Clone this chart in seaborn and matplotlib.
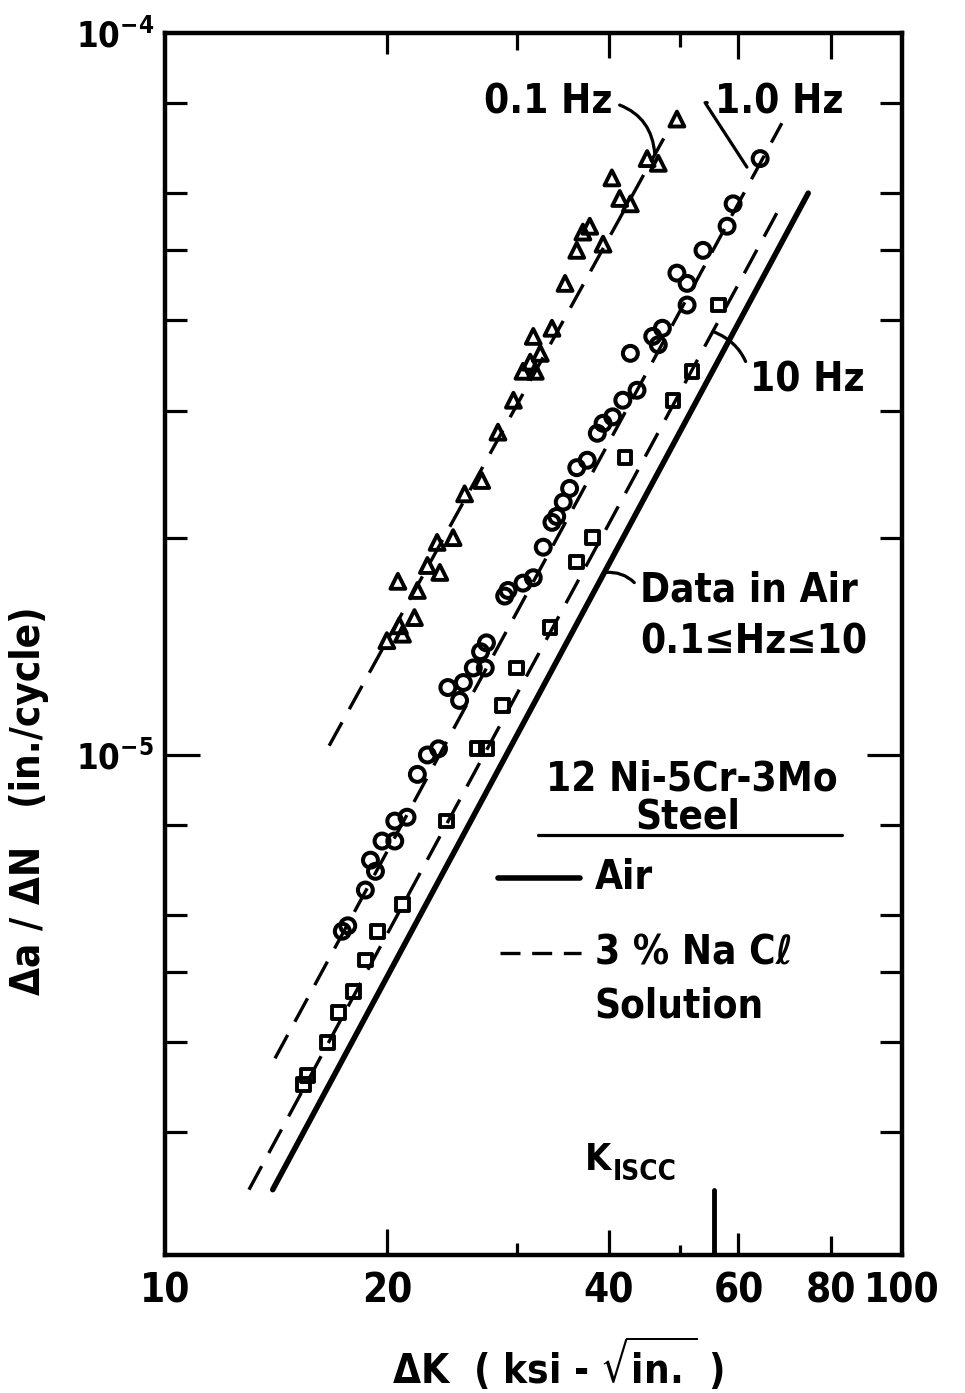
import numpy as np
import pandas as pd
import matplotlib
matplotlib.use("Agg")
import matplotlib.pyplot as plt
import seaborn as sns
from matplotlib.ticker import FixedLocator, NullFormatter, FixedFormatter

# ---------------- data ----------------
# 3% NaCl solution, 0.1 Hz (triangles)
K_01Hz = [49.5, 46.7, 45.1, 40.4, 41.4, 42.8, 37.7, 36.9, 39.3, 36.2, 34.9, 33.5, 31.6,
          32.3, 31.3, 30.6, 31.8, 29.7, 28.3, 26.9, 25.5, 24.6, 23.4, 23.6, 22.7, 22.0,
          20.7, 21.8, 20.8, 21.0, 20.0]
dadN_01Hz = [7.6e-5, 6.6e-5, 6.7e-5, 6.3e-5, 5.9e-5, 5.8e-5, 5.4e-5, 5.3e-5, 5.1e-5,
             5.0e-5, 4.5e-5, 3.9e-5, 3.8e-5, 3.6e-5, 3.5e-5, 3.4e-5, 3.4e-5, 3.1e-5,
             2.8e-5, 2.4e-5, 2.3e-5, 2.0e-5, 1.97e-5, 1.79e-5, 1.83e-5, 1.69e-5,
             1.74e-5, 1.55e-5, 1.51e-5, 1.47e-5, 1.44e-5]

# 3% NaCl solution, 1.0 Hz (circles)
K_1Hz = [64.2, 59.0, 57.9, 53.7, 49.5, 51.1, 51.1, 47.3, 45.9, 46.7, 42.8, 43.7, 41.8,
         40.5, 39.3, 38.6, 37.4, 36.2, 35.4, 34.7, 34.0, 33.5, 32.6, 31.6, 30.6, 29.2,
         28.9, 27.3, 26.8, 27.2, 26.2, 25.4, 24.2, 25.1, 23.5, 22.7, 22.0, 21.3, 20.5,
         20.5, 19.7, 19.0, 19.3, 18.7, 17.7, 17.4]
dadN_1Hz = [6.7e-5, 5.8e-5, 5.4e-5, 5.0e-5, 4.65e-5, 4.5e-5, 4.2e-5, 3.9e-5, 3.8e-5,
            3.7e-5, 3.6e-5, 3.2e-5, 3.1e-5, 2.94e-5, 2.88e-5, 2.79e-5, 2.56e-5, 2.5e-5,
            2.34e-5, 2.24e-5, 2.14e-5, 2.10e-5, 1.94e-5, 1.76e-5, 1.73e-5, 1.69e-5,
            1.66e-5, 1.43e-5, 1.39e-5, 1.32e-5, 1.32e-5, 1.26e-5, 1.24e-5, 1.19e-5,
            1.02e-5, 1.0e-5, 9.4e-6, 8.2e-6, 8.1e-6, 7.6e-6, 7.6e-6, 7.15e-6, 6.9e-6,
            6.5e-6, 5.8e-6, 5.7e-6]

# 3% NaCl solution, 10 Hz (squares)
K_10Hz = [56.3, 51.9, 48.9, 42.1, 38.0, 36.2, 33.3, 30.0, 28.7, 27.3, 26.5, 24.1, 21.0,
          19.4, 18.7, 18.0, 17.2, 16.6, 15.6, 15.4]
dadN_10Hz = [4.2e-5, 3.4e-5, 3.1e-5, 2.58e-5, 2.0e-5, 1.85e-5, 1.5e-5, 1.32e-5, 1.17e-5,
             1.02e-5, 1.02e-5, 8.1e-6, 6.2e-6, 5.7e-6, 5.2e-6, 4.7e-6, 4.4e-6, 4.0e-6,
             3.6e-6, 3.5e-6]

# fitted trend lines (end points)
air_K = [14.0, 74.6]
air_dadN = [2.5e-6, 6.0e-5]
nacl10_K = [13.0, 68.7]
nacl10_dadN = [2.5e-6, 5.8e-5]
nacl1_K = [14.1, 68.7]
nacl1_dadN = [3.8e-6, 7.5e-5]
nacl01_K = [16.7, 47.7]
nacl01_dadN = [1.03e-5, 7.2e-5]

K_ISCC = 55.5

x_ticks = [10, 20, 30, 40, 50, 60, 80, 100]
x_ticklabels = ["10", "20", "", "40", "", "60", "80", "100"]
y_major = [1e-5, 1e-4]
y_ticklabels = [r"$\mathbf{10^{-5}}$", r"$\mathbf{10^{-4}}$"]
y_minor = [2e-6, 3e-6, 4e-6, 5e-6, 6e-6, 8e-6, 2e-5, 3e-5, 4e-5, 5e-5, 6e-5, 8e-5]

# ---------------- style ----------------
sns.set_theme(style="ticks")
plt.rcParams["font.family"] = ["DejaVu Sans"]
plt.rcParams["font.weight"] = "bold"
plt.rcParams["font.stretch"] = "condensed"
plt.rcParams["mathtext.default"] = "bf"
plt.rcParams["mathtext.fontset"] = "dejavusans"
for key in ["text.color", "axes.labelcolor", "xtick.color", "ytick.color", "axes.edgecolor"]:
    plt.rcParams[key] = "black"

fig = plt.figure(figsize=(9.65, 13.93), dpi=100)
ax = fig.add_axes([0.171, 0.0991, 0.7637, 0.8772])
ax.set_xscale("log")
ax.set_yscale("log")

# ---------------- lines ----------------
sns.lineplot(x=air_K, y=air_dadN, color="black", linewidth=4.0, ax=ax)
for kk, dd in [(nacl10_K, nacl10_dadN), (nacl1_K, nacl1_dadN), (nacl01_K, nacl01_dadN)]:
    sns.lineplot(x=kk, y=dd, color="black", linewidth=2.4, ax=ax)
    ax.lines[-1].set_dashes([8, 4.5])

# ---------------- points ----------------
sns.scatterplot(x=K_01Hz, y=dadN_01Hz, marker="^", s=115, facecolor="none",
                edgecolor="black", linewidth=2.8, ax=ax, zorder=4)
sns.scatterplot(x=K_1Hz, y=dadN_1Hz, marker="o", s=115, facecolor="none",
                edgecolor="black", linewidth=2.9, ax=ax, zorder=4)
sns.scatterplot(x=K_10Hz, y=dadN_10Hz, marker="s", s=85, facecolor="none",
                edgecolor="black", linewidth=2.8, ax=ax, zorder=4)

ax.set_xlim(10, 100)
ax.set_ylim(2.03e-6, 1e-4)

# ---------------- axes styling ----------------
for sp in ax.spines.values():
    sp.set_linewidth(3.2)
    sp.set_color("black")

ax.xaxis.set_major_locator(FixedLocator(x_ticks))
ax.xaxis.set_major_formatter(FixedFormatter(x_ticklabels))
ax.xaxis.set_minor_locator(FixedLocator([]))
ax.yaxis.set_major_locator(FixedLocator(y_major))
ax.yaxis.set_major_formatter(FixedFormatter(y_ticklabels))
ax.yaxis.set_minor_locator(FixedLocator(y_minor))
ax.yaxis.set_minor_formatter(NullFormatter())

ax.tick_params(axis="both", which="both", direction="in", top=True, right=True,
               width=2.3, color="black", labelcolor="black")
ax.tick_params(axis="x", which="major", labelsize=29, pad=12)
ax.tick_params(axis="y", which="major", length=25, labelsize=25, pad=8)
ax.tick_params(axis="y", which="minor", length=16)

bottom_len = [0, 19, 9, 18, 7, 16, 14, 0]
top_len = [0, 15, 12, 18, 10, 19, 19, 0]
for t, lb, lt in zip(ax.xaxis.get_major_ticks(), bottom_len, top_len):
    t.tick1line.set_markersize(lb)
    t.tick2line.set_markersize(lt)
ymaj = ax.yaxis.get_major_ticks()
ymaj[1].tick1line.set_markersize(0)
ymaj[1].tick2line.set_markersize(0)

for lab in ax.get_xticklabels() + ax.get_yticklabels():
    lab.set_fontweight("bold")

ax.set_xlabel(r"ΔK  ( ksi - $\sqrt{\mathbf{in.}}$ )", fontsize=29, fontweight="bold")
ax.set_ylabel("Δa / ΔN   (in./cycle)", fontsize=29, fontweight="bold")
ax.xaxis.set_label_coords(0.533, -0.066)
ax.yaxis.set_label_coords(-0.158, 0.372)

# K_ISCC marker
ax.axvline(K_ISCC, ymin=0, ymax=0.053, color="black", lw=3.5)
ax.text(0.57, 0.078, "K", transform=ax.transAxes, fontsize=27, ha="left", va="center")
ax.text(0.608, 0.068, "ISCC", transform=ax.transAxes, fontsize=20, ha="left", va="center")

# ---------------- annotations ----------------
fs = 29
lp = dict(arrowstyle="-", lw=2.3, color="black", shrinkA=3, shrinkB=0)
ax.annotate("0.1 Hz", xy=(46.2, 6.79e-5), xytext=(0.52, 0.943), textcoords="axes fraction",
            ha="center", va="center", fontsize=fs,
            arrowprops=dict(lp, relpos=(1, 0.5), connectionstyle="arc3,rad=-0.35"))
ax.annotate("1.0 Hz", xy=(61.6, 6.52e-5), xytext=(0.833, 0.943), textcoords="axes fraction",
            ha="center", va="center", fontsize=fs,
            arrowprops=dict(lp, relpos=(0, 0.5), connectionstyle="angle,angleA=180,angleB=123,rad=0"))
ax.annotate("10 Hz", xy=(55.4, 3.86e-5), xytext=(0.872, 0.716), textcoords="axes fraction",
            ha="center", va="center", fontsize=fs,
            arrowprops=dict(lp, relpos=(0, 0.5), connectionstyle="arc3,rad=0.3"))
ax.annotate("Data in Air", xy=(39.5, 1.79e-5), xytext=(0.645, 0.544), textcoords="axes fraction",
            ha="left", va="center", fontsize=fs,
            arrowprops=dict(lp, relpos=(0, 0.5), connectionstyle="arc3,rad=0.3"))
ax.text(0.645, 0.501, "0.1≤Hz≤10", transform=ax.transAxes, ha="left", va="center", fontsize=fs)

ax.text(0.715, 0.389, "12 Ni-5Cr-3Mo", transform=ax.transAxes, ha="center", va="center", fontsize=fs)
ax.text(0.71, 0.358, "Steel", transform=ax.transAxes, ha="center", va="center", fontsize=fs)
ax.plot([0.506, 0.918], [0.3437, 0.3437], transform=ax.transAxes, color="black", lw=2.3)

ax.plot([0.452, 0.563], [0.3085, 0.3085], transform=ax.transAxes, color="black", lw=4.0)
ax.text(0.583, 0.3085, "Air", transform=ax.transAxes, ha="left", va="center", fontsize=fs)
dl, = ax.plot([0.455, 0.565], [0.247, 0.247], transform=ax.transAxes, color="black", lw=2.4)
dl.set_dashes([6, 3.5])
ax.text(0.583, 0.247, "3 % Na Cℓ", transform=ax.transAxes, ha="left", va="center", fontsize=fs)
ax.text(0.583, 0.203, "Solution", transform=ax.transAxes, ha="left", va="center", fontsize=fs)

fig.savefig("out.png", dpi=100, facecolor="white")
